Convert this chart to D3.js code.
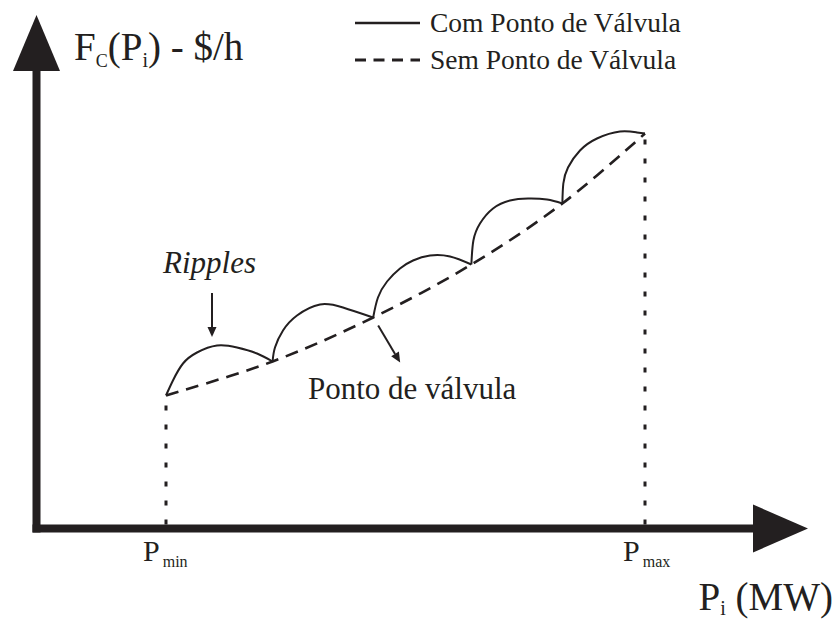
<!DOCTYPE html>
<html>
<head>
<meta charset="utf-8">
<script src="https://cdn.jsdelivr.net/npm/d3@7"></script>
<style>
  body { margin: 0; background: #fff; }
  text { font-family: "Liberation Serif", "Times New Roman", serif; fill: #231f20; }
</style>
</head>
<body>
<div id="chart"></div>
<script>
var w = 835, h = 619;
var ink = "#231f20";

// generation limits (MW)
var pMin = 100, pMax = 500;

// valve points, on the curve without valve point effect
var valveP = [100, 189, 273, 355, 431, 500];
var valveCost = [266, 334, 422, 528, 650, 790];

// ripples (curve with valve point effect), one per interval
var rippleP = [
  [100, 105.8, 114.2, 125.9, 142.6, 159.3, 176, 189],
  [189, 191, 197.7, 209.4, 228.6, 247.8, 273],
  [273, 277, 284.6, 295.4, 306.3, 320.5, 337.2, 355],
  [355, 356.7, 362.2, 373.1, 387.3, 402.3, 418.2, 431],
  [431, 431.8, 435.7, 445.7, 459.9, 479.1, 493.3, 500]
];
var rippleCost = [
  [266, 296, 330, 352, 366, 362, 350, 334],
  [334, 362, 396, 426, 448, 442, 422],
  [422, 462, 494, 520, 536, 546, 544, 528],
  [528, 576, 610, 640, 656, 660, 658, 650],
  [650, 690, 722, 756, 780, 794, 792, 790]
];

var legendLabels = ["Com Ponto de Válvula", "Sem Ponto de Válvula"];

var svg = d3.select("#chart").append("svg").attr("width", w).attr("height", h);

var x = d3.scaleLinear().domain([pMin, pMax]).range([166, 645]);
var y = d3.scaleLinear().domain([0, 1000]).range([528.5, 28.5]);

var x0 = 36.5, y0 = 528.5;

/*
 * axes with arrow heads
 */
svg.append("rect").attr("x", x0 - 4).attr("y", 66).attr("width", 8).attr("height", y0 + 4 - 66).attr("fill", ink);
svg.append("path").attr("d", "M" + x0 + ",15L" + (x0 - 23.5) + ",71L" + (x0 + 23.5) + ",71Z").attr("fill", ink);
svg.append("rect").attr("x", x0 - 4).attr("y", y0 - 4).attr("width", 760 - x0 + 4).attr("height", 8).attr("fill", ink);
svg.append("path").attr("d", "M808," + y0 + "L753," + (y0 - 24) + "L753," + (y0 + 24) + "Z").attr("fill", ink);

// dotted limits
[pMin, pMax].forEach(function(p, i){
  var c = i == 0 ? valveCost[0] : valveCost[valveCost.length - 1];
  svg.append("line")
    .attr("x1", x(p)).attr("x2", x(p))
    .attr("y1", y0 - 4).attr("y2", y(c) + 4)
    .attr("stroke", ink).attr("stroke-width", 3)
    .attr("stroke-dasharray", "5,14");
});

// curve without valve point
var line = d3.line().x(function(d){ return x(d[0]); }).y(function(d){ return y(d[1]); });
svg.append("path")
  .datum(d3.zip(valveP, valveCost))
  .attr("d", line.curve(d3.curveCatmullRom))
  .attr("fill", "none").attr("stroke", ink).attr("stroke-width", 2.6)
  .attr("stroke-dasharray", "13,8");

// ripples
var rline = d3.line().x(function(d){ return x(d[0]); }).y(function(d){ return y(d[1]); }).curve(d3.curveNatural);
svg.selectAll(".ripple")
  .data(rippleP.map(function(ps, i){ return d3.zip(ps, rippleCost[i]); }))
  .enter().append("path")
  .attr("class", "ripple")
  .attr("d", rline)
  .attr("fill", "none").attr("stroke", ink).attr("stroke-width", 2);

/*
 * arrows for annotations
 */
function arrow(x1, y1, x2, y2){
  var a = Math.atan2(y2 - y1, x2 - x1), L = 10, W = 4.5;
  var bx = x2 - L * Math.cos(a), by = y2 - L * Math.sin(a);
  svg.append("line").attr("x1", x1).attr("y1", y1).attr("x2", bx).attr("y2", by)
    .attr("stroke", ink).attr("stroke-width", 2);
  svg.append("path")
    .attr("d", "M" + x2 + "," + y2 +
      "L" + (bx + W * Math.sin(a)) + "," + (by - W * Math.cos(a)) +
      "L" + (bx - W * Math.sin(a)) + "," + (by + W * Math.cos(a)) + "Z")
    .attr("fill", ink);
}
arrow(212, 293, 212, 337);
arrow(x(valveP[2]) + 5, y(valveCost[2]) + 8, x(valveP[2]) + 27, y(valveCost[2]) + 45);

svg.append("text").attr("x", 163).attr("y", 273)
  .attr("font-size", 31).attr("font-style", "italic").text("Ripples");
svg.append("text").attr("x", 308).attr("y", 399)
  .attr("font-size", 31).text("Ponto de válvula");

// legend
var lg = svg.append("g");
legendLabels.forEach(function(t, i){
  var ly = 23 + i * 37;
  lg.append("line").attr("x1", 355).attr("x2", 420).attr("y1", ly).attr("y2", ly)
    .attr("stroke", ink).attr("stroke-width", i == 0 ? 2.4 : 3)
    .attr("stroke-dasharray", i == 0 ? null : "11,7.5");
  lg.append("text").attr("x", 430).attr("y", ly + 9).attr("font-size", 27.5).text(t);
});

// axis titles
var yt = svg.append("text").attr("x", 74).attr("y", 60).attr("font-size", 39);
yt.append("tspan").text("F");
yt.append("tspan").attr("font-size", 18).attr("dy", 7).text("C");
yt.append("tspan").attr("dy", -7).text("(P");
yt.append("tspan").attr("font-size", 20).attr("dy", 7).text("i");
yt.append("tspan").attr("dy", -7).text(") - $/h");

var xt = svg.append("text").attr("x", 833).attr("y", 610).attr("font-size", 39).attr("text-anchor", "end");
xt.append("tspan").text("P");
xt.append("tspan").attr("font-size", 20).attr("dy", 5).text("i");
xt.append("tspan").attr("dy", -5).text(" (MW)");

// limit labels
[["min", pMin, -23], ["max", pMax, -22]].forEach(function(d){
  var t = svg.append("text").attr("x", x(d[1]) + d[2]).attr("y", 561).attr("font-size", 30);
  t.append("tspan").text("P");
  t.append("tspan").attr("font-size", 16).attr("dy", 6).attr("dx", 3).text(d[0]);
});
</script>
</body>
</html>
